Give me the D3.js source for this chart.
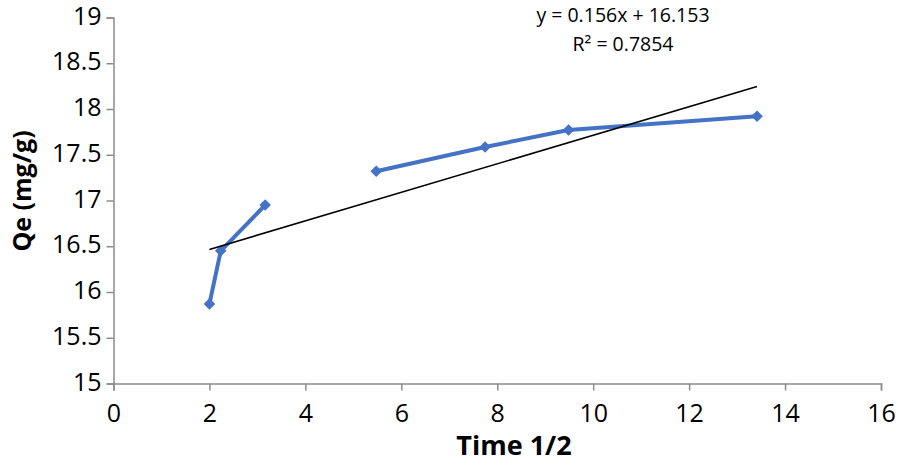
<!DOCTYPE html>
<html><head><meta charset="utf-8">
<script src="https://cdn.jsdelivr.net/npm/d3@7/dist/d3.min.js"></script>
<style>body{margin:0;background:#fff;} svg{display:block;}</style>
</head><body>
<svg id="c" width="898" height="466"></svg>
<script>
// null marks the gap in the plotted series (no point drawn there)
const xValues = [2.0, 2.236, 3.162, 4.243, 5.477, 7.746, 9.487, 13.416];
const qeValues = [15.87, 16.45, 16.95, null, 17.32, 17.585, 17.77, 17.92];
const xTicks = [0, 2, 4, 6, 8, 10, 12, 14, 16];
const yTicks = [15, 15.5, 16, 16.5, 17, 17.5, 18, 18.5, 19];
const trendSlope = 0.156, trendIntercept = 16.153;
const eqLabel = "y = 0.156x + 16.153";
const r2Label = "R² = 0.7854";
const xTitle = "Time 1/2";
const yTitle = "Qe (mg/g)";

const svg = d3.select("#c");
const font = "'Open Sans', sans-serif";
const x = d3.scaleLinear().domain([0, 16]).range([113.5, 881]);
const y = d3.scaleLinear().domain([15, 19]).range([383.5, 17.5]);
const axisColor = "#8c8c8c";

const gx = svg.append("g").attr("transform", `translate(0,${y(15)})`)
  .call(d3.axisBottom(x).tickValues(xTicks).tickSize(7).tickFormat(d3.format("d")));
gx.selectAll(".tick text").attr("dy", null).attr("y", 38.5);
const gy = svg.append("g").attr("transform", `translate(${x(0)},0)`)
  .call(d3.axisLeft(y).tickValues(yTicks).tickSize(7).tickPadding(5).tickFormat(d => String(d)));
gy.selectAll(".tick text").attr("dy", "0.26em");
[gx, gy].forEach(g => {
  g.select(".domain").attr("stroke", axisColor).attr("stroke-width", 1.5);
  g.selectAll(".tick line").attr("stroke", axisColor).attr("stroke-width", 1.5);
  g.selectAll(".tick text").attr("fill", "#000").style("font-family", font).style("font-size", "25px");
});

const data = xValues.map((v, i) => [v, qeValues[i]]);
svg.append("path").datum(data)
  .attr("fill", "none").attr("stroke", "#4472C4").attr("stroke-width", 4)
  .attr("stroke-linejoin", "round")
  .attr("d", d3.line().defined(d => d[1] !== null).x(d => x(d[0])).y(d => y(d[1])));

svg.selectAll(".pt").data(data.filter(d => d[1] !== null)).enter().append("path")
  .attr("transform", d => `translate(${x(d[0])},${y(d[1])})`)
  .attr("d", d3.symbol().type(d3.symbolDiamond2).size(85))
  .attr("fill", "#4472C4");

const valid = data.filter(d => d[1] !== null).map(d => d[0]);
const x0 = d3.min(valid), x1 = d3.max(valid);
svg.append("line")
  .attr("x1", x(x0)).attr("y1", y(trendSlope * x0 + trendIntercept))
  .attr("x2", x(x1)).attr("y2", y(trendSlope * x1 + trendIntercept))
  .attr("stroke", "#000").attr("stroke-width", 1.6);

svg.append("text").attr("x", 623).attr("y", 22).attr("text-anchor", "middle")
  .style("font-family", font).style("font-size", "19.5px").text(eqLabel);
svg.append("text").attr("x", 623).attr("y", 51).attr("text-anchor", "middle")
  .style("font-family", font).style("font-size", "19.5px").text(r2Label);

svg.append("text").attr("x", 514).attr("y", 455).attr("text-anchor", "middle")
  .style("font-family", font).style("font-size", "27px").style("font-weight", "bold").text(xTitle);
svg.append("text").attr("transform", `translate(31,191) rotate(-90)`).attr("text-anchor", "middle")
  .style("font-family", font).style("font-size", "25px").style("font-weight", "bold").text(yTitle);
</script>
</body></html>
